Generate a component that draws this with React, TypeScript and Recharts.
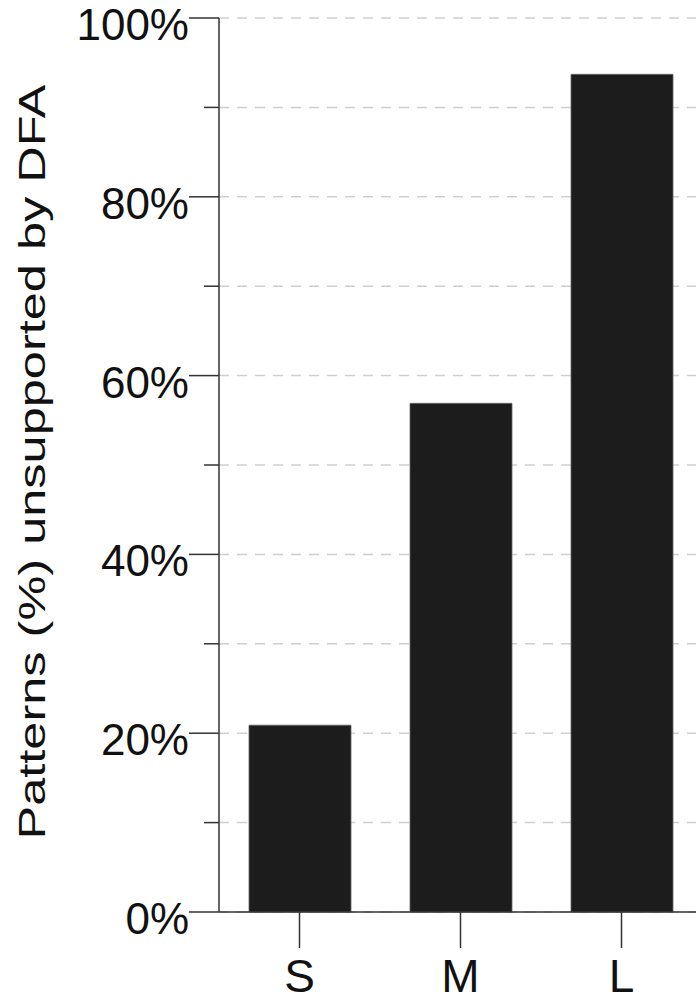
import { BarChart, Bar, XAxis, YAxis, CartesianGrid } from "recharts";

const categories = ["S", "M", "L"];
const unsupported = [20.9, 56.9, 93.7];
const yTicks = [0, 10, 20, 30, 40, 50, 60, 70, 80, 90, 100];
const yTitle = "Patterns (%) unsupported by DFA";

const data = categories.map((name, i) => ({ name, value: unsupported[i] }));

const font = '"Liberation Sans", Arial, Helvetica, sans-serif';
const axisColor = "#333";

function YTick(props: any) {
    const { x, y, payload } = props;
    const v = payload.value as number;
    const major = v % 20 === 0;
    return (
        <g>
            <line
                x1={major ? x : x + 15}
                x2={x + 30}
                y1={y}
                y2={y}
                stroke={axisColor}
                strokeWidth={1.5}
            />
            {major && (
                <text x={x} y={y + 22} textAnchor="end" fontSize={44} fontFamily={font} fill="#111">
                    {`${v}%`}
                </text>
            )}
        </g>
    );
}

function XTick(props: any) {
    const { x, y, payload } = props;
    return (
        <g>
            <line x1={x} x2={x} y1={y - 36} y2={y} stroke={axisColor} strokeWidth={1.5} />
            <text x={x} y={y + 44} textAnchor="middle" fontSize={46} fontFamily={font} fill="#111">
                {payload.value}
            </text>
        </g>
    );
}

function YTitle(props: any) {
    const vb = props.viewBox;
    const cx = 45;
    const cy = vb.y + vb.height / 2 - 3;
    return (
        <text
            x={cx}
            y={cy}
            transform={`rotate(-90, ${cx}, ${cy})`}
            textAnchor="middle"
            fontSize={37}
            fontFamily={font}
            fill="#111"
            textLength={755}
            lengthAdjust="spacingAndGlyphs"
        >
            {yTitle}
        </text>
    );
}

export default function App() {
    return (
        <div
            style={{
                position: "absolute",
                left: 0,
                top: 0,
                width: 696,
                height: 1003,
                overflow: "hidden",
                background: "#fff",
            }}
        >
            <BarChart
                width={702}
                height={1003}
                data={data}
                margin={{ top: 18, right: 0, left: 0, bottom: 61 }}
                barSize={102}
            >
                <CartesianGrid
                    vertical={false}
                    stroke="#cfcfcf"
                    strokeWidth={1.5}
                    strokeDasharray="10 8"
                />
                <XAxis
                    dataKey="name"
                    height={30}
                    axisLine={{ stroke: axisColor, strokeWidth: 1.5 }}
                    tickLine={false}
                    tickSize={36}
                    tickMargin={0}
                    tick={<XTick />}
                    interval={0}
                />
                <YAxis
                    width={219}
                    domain={[0, 100]}
                    ticks={yTicks}
                    interval={0}
                    axisLine={{ stroke: axisColor, strokeWidth: 1.5 }}
                    tickLine={false}
                    tickSize={30}
                    tickMargin={0}
                    tick={<YTick />}
                    label={<YTitle />}
                />
                <Bar
                    dataKey="value"
                    fill="#1c1c1c"
                    stroke="#666"
                    strokeWidth={0.8}
                    isAnimationActive={false}
                />
            </BarChart>
        </div>
    );
}
